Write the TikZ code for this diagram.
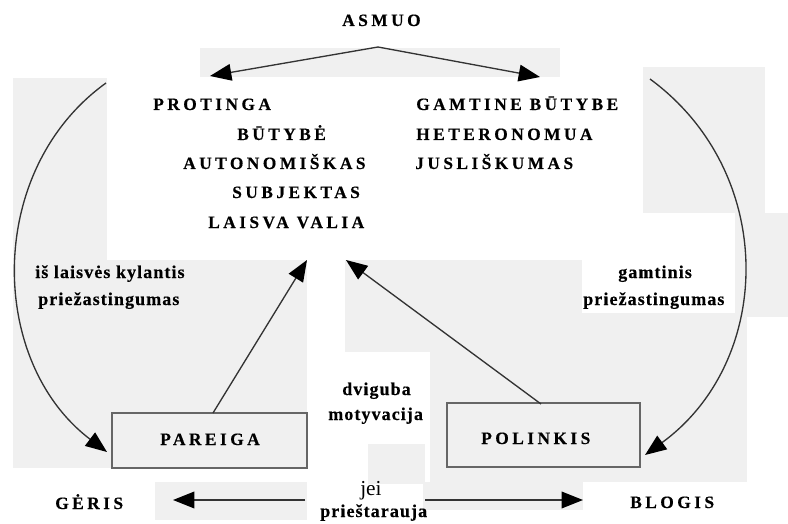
\documentclass[tikz,border=0pt]{standalone}
\usepackage{fontspec}
\setmainfont{Liberation Serif}
\newfontfamily\capsfont[LetterSpace=20,BoldFeatures={FakeBold=0.4}]{Liberation Serif}
\newfontfamily\lowfont[LetterSpace=6,BoldFeatures={FakeBold=0.4}]{Liberation Serif}
\usetikzlibrary{arrows.meta}
\tikzset{
  patch/.style={fill=black!6, draw=none},
  captxt/.style={font=\capsfont\bfseries\fontsize{13}{15}\selectfont, inner sep=0pt, anchor=base west},
  lowtxt/.style={font=\lowfont\bfseries\fontsize{13.5}{16}\selectfont, inner sep=0pt, anchor=base west},
  regtxt/.style={font=\fontsize{16}{18}\selectfont, inner sep=0pt, anchor=base west},
  conn/.style={draw=black!80, line width=1pt, -{Triangle[length=16pt,width=12.5pt,black]}},
  boxnode/.style={draw=black!60, line width=0.9pt, inner sep=0pt},
}
\begin{document}
\begin{tikzpicture}[x=0.75pt,y=-0.75pt]
\useasboundingbox (0,0) rectangle (788,524);
% scanned background patches
\fill[patch] (200,48) rectangle (560,77);
\fill[patch] (13,78) rectangle (107,260);
\fill[patch] (13,260) rectangle (307,468);
\fill[patch] (345,260) rectangle (430,352);
\fill[patch] (430,260) rectangle (747,482);
\fill[patch] (735,213) rectangle (788,317);
\fill[patch] (643,67) rectangle (765,213);
\fill[patch] (155,482) rectangle (307,520);
\fill[patch] (423,482) rectangle (583,510);
\fill[patch] (368,444) rectangle (425,484);
\fill[white] (582,258) rectangle (735,313);

% texts
\node[captxt] (asmuo) at (342,26) {ASMUO};
\node[captxt] (protinga) at (153,110) {PROTINGA};
\node[captxt] (butybe) at (237,140) {BŪTYBĖ};
\node[captxt] (autonom) at (183,169) {AUTONOMIŠKAS};
\node[captxt] (subj) at (232,198) {SUBJEKTAS};
\node[captxt] (laisva) at (208,228) {LAISVA VALIA};
\node[captxt] (gamtine) at (416,110) {GAMTINE BŪTYBE};
\node[captxt] (hetero) at (416,140) {HETERONOMUA};
\node[captxt] (jusl) at (415,169) {JUSLIŠKUMAS};
\node[lowtxt] (isl) at (35,278) {iš laisvės kylantis};
\node[lowtxt] (priezL) at (38,305) {priežastingumas};
\node[lowtxt] (gamt) at (618,278) {gamtinis};
\node[lowtxt] (priezR) at (583,305) {priežastingumas};
\node[lowtxt] (dvig) at (342,395) {dviguba};
\node[lowtxt] (motyv) at (328,420) {motyvacija};
\node[regtxt] (jei) at (360,495) {jei};
\node[lowtxt] (priest) at (320,517) {prieštarauja};
\node[captxt] (geris) at (55,509) {GĖRIS};
\node[captxt] (blogis) at (630,508) {BLOGIS};

% boxes
\node[boxnode, minimum width=146.25pt, minimum height=41.25pt] (pareigabox) at (209.5,440.5) {};
\node[boxnode, minimum width=144.75pt, minimum height=48pt] (polinkisbox) at (543.5,435) {};
\node[captxt] (pareiga) at (160,445) {PAREIGA};
\node[captxt] (polinkis) at (481,444) {POLINKIS};

% connector coordinates
\coordinate (apex) at (378,47);
\coordinate (tl) at (210,76);
\coordinate (tr) at (540,77);
\coordinate (arcLs) at (106,83);
\coordinate (arcLe) at (107,452);
\coordinate (arcRs) at (650,79);
\coordinate (arcRe) at (645,455);
\coordinate (pareigaTop) at (213,413);
\coordinate (polinkisTop) at (541,404);
\coordinate (upL) at (307,260);
\coordinate (upR) at (346,260);
\coordinate (botLs) at (305,500);
\coordinate (botLe) at (173,500);
\coordinate (botRs) at (425,500);
\coordinate (botRe) at (583,500);

% connectors
\draw[conn] (apex) -- (tl);
\draw[conn] (apex) -- (tr);
\draw[conn] (arcLs) .. controls (-15,170) and (-12,362) .. (arcLe);
\draw[conn] (arcRs) .. controls (778,173) and (774,361) .. (arcRe);
\draw[conn] (pareigaTop) -- (upL);
\draw[conn] (polinkisTop) -- (upR);
\draw[conn] (botLs) -- (botLe);
\draw[conn] (botRs) -- (botRe);
\end{tikzpicture}
\end{document}
